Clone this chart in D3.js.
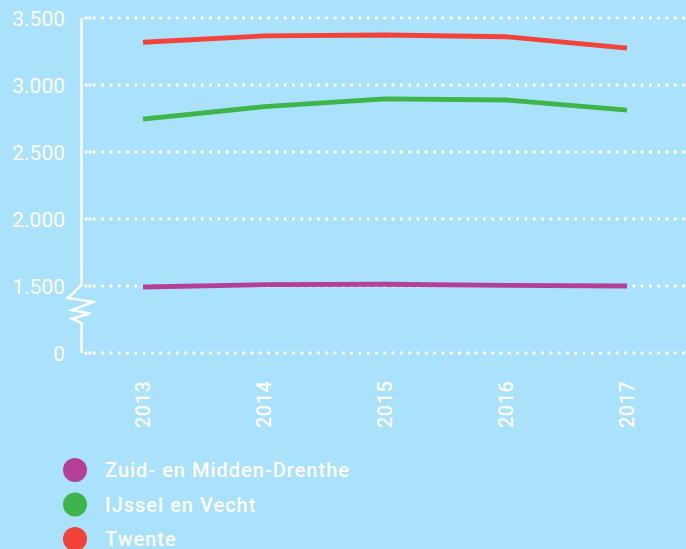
<!DOCTYPE html>
<html>
<head>
<meta charset="utf-8">
<script src="https://cdn.jsdelivr.net/npm/d3@7"></script>
<style>
  html, body { margin: 0; padding: 0; background: #aae1fb; }
  svg text { font-family: Roboto, "Noto Sans", sans-serif; fill: #fff; }
</style>
</head>
<body>
<div class="canvas"></div>
<script>
const years = ['2013', '2014', '2015', '2016', '2017'];
const seriesNames = ['Zuid- en Midden-Drenthe', 'IJssel en Vecht', 'Twente'];
const zuidMidden = [1478, 1510, 1513, 1505, 1500];
const ijsselVecht = [2746, 2838, 2896, 2888, 2813];
const twente = [3319, 3366, 3373, 3360, 3276];
const yTicks = [0, 1500, 2000, 2500, 3000, 3500];
const colours = ['#b43f98', '#3db54a', '#f2433a'];

const series = [zuidMidden, ijsselVecht, twente];

const svg = d3.select('.canvas')
    .append('svg')
    .attr('width', 686)
    .attr('height', 549);

// x positions of the years
const x = d3.scalePoint()
    .domain(years)
    .range([143, 627]);

// broken axis: 0 sits one step below 1500
const y = d3.scaleLinear()
    .domain([0, 1500, 3500])
    .range([353, 286, 18]);

const fmt = v => d3.format(',')(v).replace(/,/g, '.');

// dotted gridlines
const grid = svg.append('g');
grid.selectAll('line')
    .data(yTicks)
    .enter()
    .append('line')
    .attr('x1', 86)
    .attr('x2', 690)
    .attr('y1', d => y(d))
    .attr('y2', d => y(d))
    .attr('stroke', '#fff')
    .attr('stroke-width', 3.4)
    .attr('stroke-linecap', 'round')
    .attr('stroke-dasharray', '0 8.3');
grid.selectAll('circle')
    .data(yTicks)
    .enter()
    .append('circle')
    .attr('cx', 90)
    .attr('cy', d => y(d))
    .attr('r', 1.7)
    .attr('fill', '#fff');

// y tick labels
svg.append('g')
    .selectAll('text')
    .data(yTicks)
    .enter()
    .append('text')
    .attr('x', 65)
    .attr('y', d => y(d))
    .attr('dy', '0.36em')
    .attr('text-anchor', 'end')
    .style('font-size', '21px')
    .text(d => fmt(d));

// y axis with zigzag break
const ax = 81.5;
const axisPts = [
    [ax, y(3500)], [ax, 285], [68, 298], [93, 302], [72, 310],
    [90, 313.5], [72, 318.5], [ax, 323], [ax, y(0)]
];
svg.append('path')
    .attr('d', d3.line()(axisPts))
    .attr('fill', 'none')
    .attr('stroke', '#fff')
    .attr('stroke-width', 2.5)
    .attr('stroke-linejoin', 'miter');

// year labels, rotated
svg.append('g')
    .selectAll('text')
    .data(years)
    .enter()
    .append('text')
    .attr('transform', d => `translate(${x(d)}, 428) rotate(-90)`)
    .attr('dy', '0.36em')
    .attr('text-anchor', 'start')
    .style('font-size', '20px')
    .style('font-weight', 500)
    .style('letter-spacing', '0.5px')
    .text(d => d);

// lines
const line = d3.line()
    .x((d, i) => x(years[i]))
    .y(d => y(d));

svg.append('g')
    .selectAll('path')
    .data(series)
    .enter()
    .append('path')
    .attr('d', d => line(d))
    .attr('fill', 'none')
    .attr('stroke', (d, i) => colours[i])
    .attr('stroke-width', 4.8);

// legend
const legend = svg.append('g')
    .selectAll('g')
    .data(seriesNames)
    .enter()
    .append('g')
    .attr('transform', (d, i) => `translate(75, ${470 + i * 34.5})`);

legend.append('circle')
    .attr('r', 12)
    .attr('fill', (d, i) => colours[i]);

legend.append('text')
    .attr('x', 30)
    .attr('dy', '0.36em')
    .style('font-size', '20px')
    .style('font-weight', 500)
    .style('letter-spacing', '1px')
    .text(d => d);
</script>
</body>
</html>
